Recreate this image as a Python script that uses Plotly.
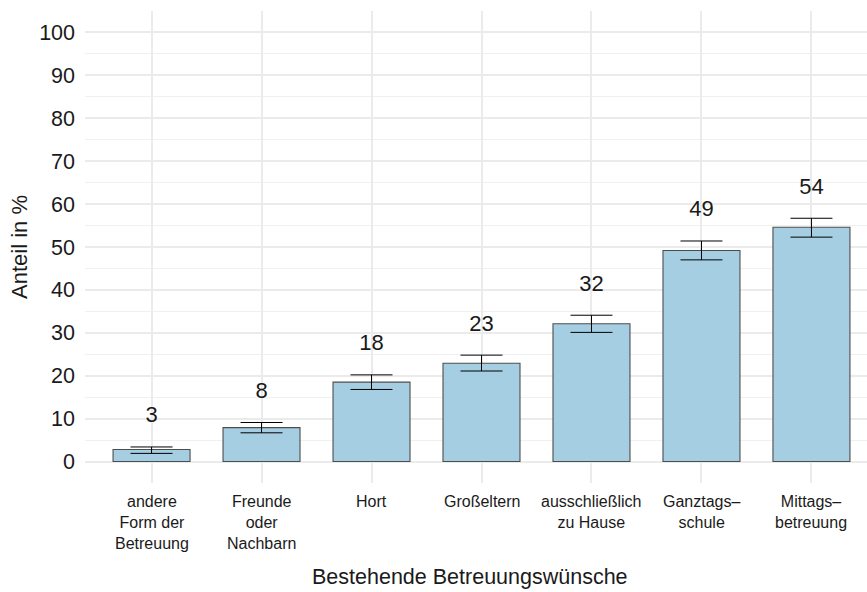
import plotly.graph_objects as go

categories = ["andere Form der Betreuung", "Freunde oder Nachbarn", "Hort", "Großeltern",
              "ausschließlich zu Hause", "Ganztagsschule", "Mittagsbetreuung"]
tick_labels = ["andere<br>Form der<br>Betreuung", "Freunde<br>oder<br>Nachbarn", "Hort", "Großeltern",
               "ausschließlich<br>zu Hause", "Ganztags–<br>schule", "Mittags–<br>betreuung"]
values = [2.8, 7.9, 18.5, 22.9, 32.1, 49.2, 54.6]
upper = [3.4, 9.1, 20.2, 24.8, 34.1, 51.4, 56.7]
lower = [1.9, 6.7, 16.8, 21.1, 30.1, 47.0, 52.3]
labels = ["3", "8", "18", "23", "32", "49", "54"]

FONT = "Liberation Sans"
TXT = "#1a1a1a"
label_offset = 7.0

fig = go.Figure()
fig.add_trace(go.Bar(
    x=categories, y=values, width=0.7,
    marker=dict(color="#a6cee3", line=dict(color="#4d4d4d", width=1.1)),
    error_y=dict(type="data", symmetric=False,
                 array=[u - v for u, v in zip(upper, values)],
                 arrayminus=[v - l for v, l in zip(values, lower)],
                 color="black", thickness=1, width=21),
    showlegend=False, hoverinfo="skip",
))
fig.add_trace(go.Scatter(
    x=categories, y=[u + label_offset for u in upper], mode="text", text=labels,
    textposition="middle center", textfont=dict(family=FONT, size=22, color=TXT),
    showlegend=False, hoverinfo="skip", cliponaxis=False,
))

annotations = []
for cat, lab in zip(categories, tick_labels):
    annotations.append(dict(
        x=cat, xref="x", y=0, yref="paper", yanchor="top", xanchor="center",
        yshift=-8, text=lab, showarrow=False,
        font=dict(family=FONT, size=16, color=TXT)))
annotations.append(dict(
    x=0.492, xref="paper", y=0, yref="paper", yanchor="top", yshift=-80,
    text="Bestehende Betreuungswünsche", showarrow=False,
    font=dict(family=FONT, size=21.5, color=TXT)))
annotations.append(dict(
    x=-0.0844, xref="paper", y=0.5, yref="paper", xanchor="center", yanchor="middle",
    text="Anteil in %", textangle=-90, showarrow=False,
    font=dict(family=FONT, size=22, color=TXT)))

fig.update_layout(
    width=867, height=592,
    margin=dict(l=85, r=0, t=11, b=108.5),
    plot_bgcolor="white", paper_bgcolor="white",
    font=dict(family=FONT, color=TXT),
    annotations=annotations,
    xaxis=dict(
        range=[-0.605, 6.505], showgrid=True, gridcolor="#ebebeb", gridwidth=1.6,
        zeroline=False, showline=False, ticks="", showticklabels=False, automargin=False,
    ),
    yaxis=dict(
        range=[-5, 105], tickvals=list(range(0, 101, 10)), showgrid=True,
        gridcolor="#ebebeb", gridwidth=1.6, zeroline=False, showline=False, ticks="",
        tickfont=dict(size=21.5, color=TXT), ticklabelstandoff=9, automargin=False,
        minor=dict(tickvals=list(range(-5, 106, 10)), showgrid=True, gridcolor="#f0f0f0", gridwidth=0.9),
    ),
)
fig.write_html("out.html", config={"displayModeBar": False},
               post_script="document.body.style.margin='0';document.body.style.overflow='hidden';")
